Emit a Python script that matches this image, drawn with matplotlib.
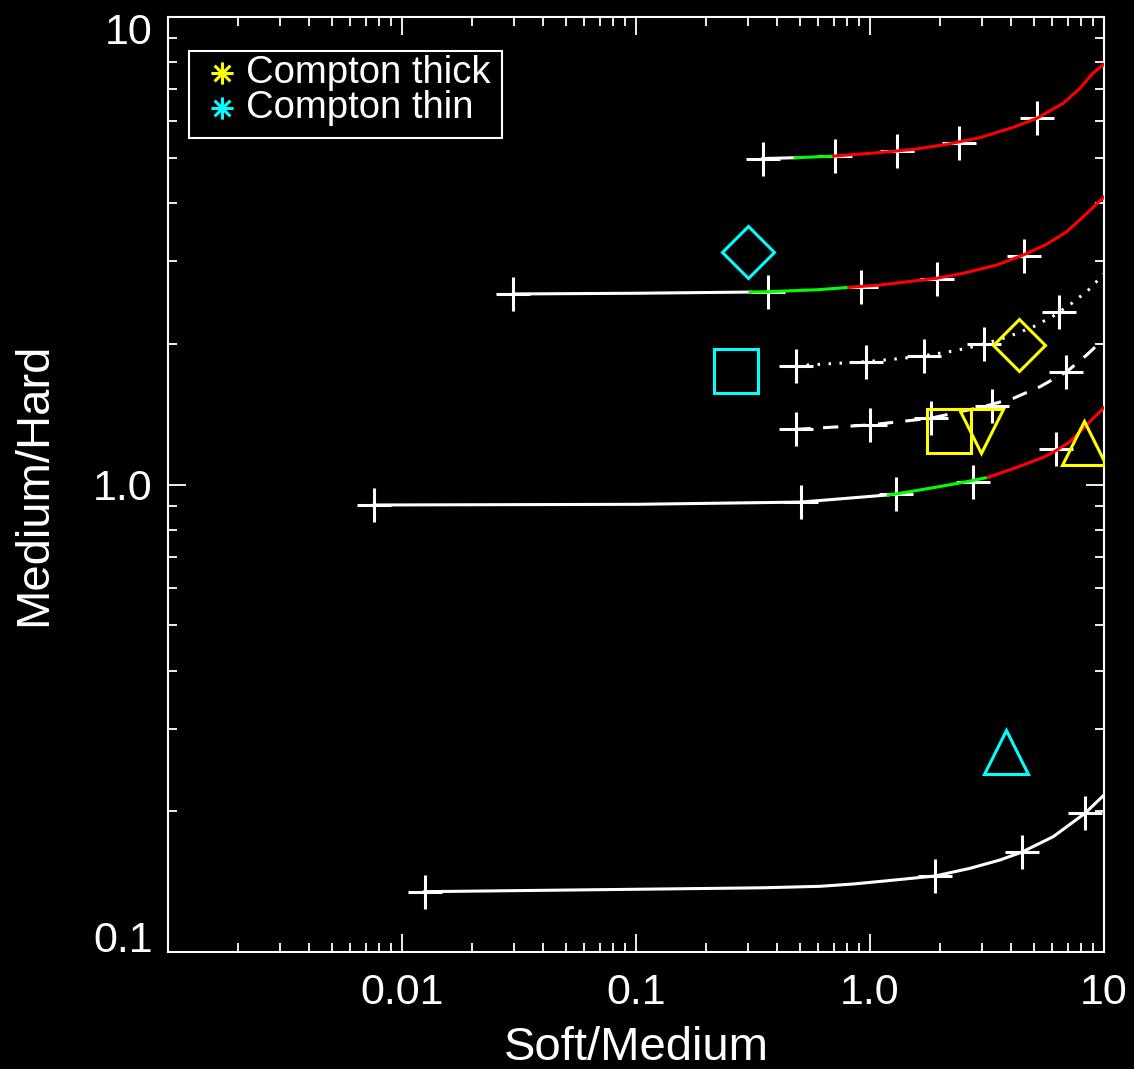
import numpy as np
import matplotlib
matplotlib.use("Agg")
import matplotlib.pyplot as plt
from matplotlib.path import Path
from matplotlib.patches import Rectangle
from matplotlib.transforms import ScaledTranslation

plt.rcParams['font.family'] = ['Liberation Sans', 'DejaVu Sans']

# --- curvas (x = Soft/Medium, y = Medium/Hard) ---
c1_x = [0.348, 0.478, 0.70, 1.103, 1.531, 2.127, 2.95, 4.10, 5.16, 6.70, 7.89, 9.0, 10.0]
c1_y = [4.98, 5.00, 5.04, 5.13, 5.21, 5.34, 5.52, 5.81, 6.07, 6.54, 7.04, 7.60, 7.92]
c1_green, c1_red = 0.478, 0.70
c1_px = [0.348, 0.711, 1.30, 2.39, 5.16]
c1_py = [4.98, 5.04, 5.17, 5.38, 6.09]

c2_x = [0.0299, 0.1, 0.307, 0.367, 0.6, 0.813, 1.103, 1.531, 1.928, 2.504, 3.48,
        4.52, 5.69, 6.93, 8.16, 10.0]
c2_y = [2.556, 2.565, 2.58, 2.585, 2.61, 2.64, 2.671, 2.724, 2.761, 2.830, 2.948,
        3.097, 3.265, 3.474, 3.741, 4.12]
c2_green, c2_red = 0.307, 0.813
c2_px = [0.0299, 0.367, 0.915, 1.93, 4.55]
c2_py = [2.556, 2.585, 2.65, 2.75, 3.08]

c3_x = [0.481, 0.958, 1.388, 1.864, 2.307, 2.857, 3.84, 4.99, 6.07, 7.28, 8.57, 10.0]
c3_y = [1.795, 1.831, 1.862, 1.899, 1.933, 1.979, 2.064, 2.175, 2.293, 2.441, 2.606, 2.82]
c3_px = [0.481, 0.958, 1.706, 3.08, 6.42]
c3_py = [1.795, 1.831, 1.886, 2.001, 2.335]

c4_x = [0.481, 1.0, 1.817, 3.05, 4.10, 5.33, 6.93, 8.43, 9.15, 10.0]
c4_y = [1.312, 1.341, 1.386, 1.467, 1.529, 1.619, 1.743, 1.892, 1.966, 2.03]
c4_px = [0.481, 1.0, 1.817, 3.33, 6.88]
c4_py = [1.312, 1.341, 1.386, 1.474, 1.743]

c5_x = [0.0076, 0.1, 0.505, 1.197, 1.343, 1.864, 2.59, 3.20, 4.24, 5.50, 6.22,
        7.16, 8.16, 9.0, 10.0]
c5_y = [0.904, 0.907, 0.917, 0.950, 0.9576, 0.9844, 1.0139, 1.036, 1.088, 1.143, 1.181,
        1.235, 1.319, 1.386, 1.46]
c5_green, c5_red = 1.197, 3.20
c5_px = [0.0076, 0.505, 1.29, 2.75, 6.22]
c5_py = [0.904, 0.917, 0.954, 1.014, 1.19]

c6_x = [0.0125, 0.1, 0.35, 0.611, 0.849, 1.179, 1.896, 2.676, 3.59, 4.46, 6.07, 8.29, 10.0]
c6_y = [0.1346, 0.1362, 0.1372, 0.1382, 0.1398, 0.1420, 0.1454, 0.1510, 0.1573, 0.1636,
        0.1765, 0.198, 0.2167]
c6_px = [0.0125, 1.896, 4.46, 8.29]
c6_py = [0.1346, 0.1454, 0.1636, 0.198]

# --- fuentes (símbolos) ---
thin_diamond = (0.302, 3.15)
thin_square = (0.267, 1.749)
thin_triangle = (3.81, 0.268)
thick_diamond = (4.35, 1.985)
thick_square = (2.18, 1.303)
thick_down = (2.97, 1.30)
thick_up = (8.19, 1.225)

xticks = [0.001, 0.01, 0.1, 1.0, 10.0]
xticklabels = ['', '0.01', '0.1', '1.0', '10']
yticks = [0.1, 1.0, 10.0]
yticklabels = ['0.1', '1.0', '10']
leyenda = ['Compton thick', 'Compton thin']

YEL = '#ffff00'
CYA = '#00ffff'

fig = plt.figure(figsize=(11.34, 10.69), dpi=100, facecolor='black')
ax = fig.add_axes([168/1134, 1-952/1069, 936/1134, 935/1069], facecolor='black')
ax.set_xscale('log')
ax.set_yscale('log')
ax.set_xlim(0.001, 10)
ax.set_ylim(0.1, 10)

lw = 2.2
cross = dict(marker='+', ms=24.5, mew=2.2, color='white', ls='none', zorder=2)


def tramo(x, y, lo, hi, color, **kw):
    x = np.array(x); y = np.array(y)
    m = (x >= lo) & (x <= hi)
    ax.plot(x[m], y[m], color=color, lw=lw, zorder=3, **kw)


for cx, cy, g, r in [(c1_x, c1_y, c1_green, c1_red),
                     (c2_x, c2_y, c2_green, c2_red),
                     (c5_x, c5_y, c5_green, c5_red)]:
    tramo(cx, cy, 0, g, 'white')
    tramo(cx, cy, g, r, '#00ff00')
    tramo(cx, cy, r, 100, '#ff0000')

ax.plot(c3_x, c3_y, color='white', lw=lw, ls=(0, (0.8, 2.8)), zorder=3)
ax.plot(c4_x, c4_y, color='white', lw=lw, ls=(0, (5, 4)), zorder=3)
ax.plot(c6_x, c6_y, color='white', lw=lw, zorder=3)

for px, py in [(c1_px, c1_py), (c2_px, c2_py), (c3_px, c3_py),
               (c4_px, c4_py), (c5_px, c5_py), (c6_px, c6_py)]:
    ax.plot(px, py, **cross)

sym = dict(ls='none', mfc='none', mew=2.2, zorder=4)
ax.plot(*thin_diamond, marker='D', ms=26.5, mec=CYA, **sym)
ax.plot(*thin_square, marker='s', ms=32, mec=CYA, **sym)
ax.plot(*thin_triangle, marker='^', ms=32, mec=CYA, **sym)
ax.plot(*thick_diamond, marker='D', ms=26.5, mec=YEL, **sym)
ax.plot(*thick_square, marker='s', ms=32, mec=YEL, **sym)
ax.plot(*thick_down, marker='v', ms=32, mec=YEL, **sym)
ax.plot(*thick_up, marker='^', ms=32, mec=YEL, **sym)

# ejes
for s in ax.spines.values():
    s.set_color('white')
    s.set_linewidth(1.5)
ax.tick_params(which='both', direction='in', top=True, right=True,
               colors='white', width=1.3)
ax.tick_params(which='major', length=13)
ax.tick_params(which='minor', length=6.5)
ax.tick_params(axis='x', which='major', labelsize=31, pad=15)
ax.tick_params(axis='y', which='major', labelsize=31, pad=11)
ax.set_xticks(xticks)
ax.set_xticklabels(xticklabels)
ax.set_yticks(yticks)
ax.set_yticklabels(yticklabels)

# las etiquetas extremas del eje y van hacia dentro (como en IDL)
ticks_y = ax.yaxis.get_major_ticks()
for t, dy in [(ticks_y[0], 15), (ticks_y[-1], -12)]:
    t.label1.set_transform(t.label1.get_transform() +
                           ScaledTranslation(0, dy / 100, fig.dpi_scale_trans))

ax.set_xlabel('Soft/Medium', fontsize=34, color='white')
ax.set_ylabel('Medium/Hard', fontsize=34, color='white')
ax.xaxis.set_label_coords(0.5, -0.079)
ax.yaxis.set_label_coords(-0.119, 0.5)

# leyenda dibujada a mano
star = Path([(-1, 0), (1, 0), (0, -1), (0, 1),
             (-0.707, -0.707), (0.707, 0.707), (-0.707, 0.707), (0.707, -0.707)],
            [Path.MOVETO, Path.LINETO] * 4)
ax.add_patch(Rectangle((0.0224, 0.8706), 0.3344, 0.093, transform=ax.transAxes,
                       facecolor='black', edgecolor='white', lw=1.5, zorder=5))
for lab, col, yy in zip(leyenda, [YEL, CYA], [0.9401, 0.9027]):
    ax.plot([0.0577], [yy], ls='none', marker=star, ms=16, mew=2.2, color=col,
            transform=ax.transAxes, zorder=6)
    ax.text(0.0833, yy, lab, transform=ax.transAxes, fontsize=27.5, color='white',
            ha='left', va='center', zorder=6)

fig.savefig('out.png', dpi=100, facecolor='black')
